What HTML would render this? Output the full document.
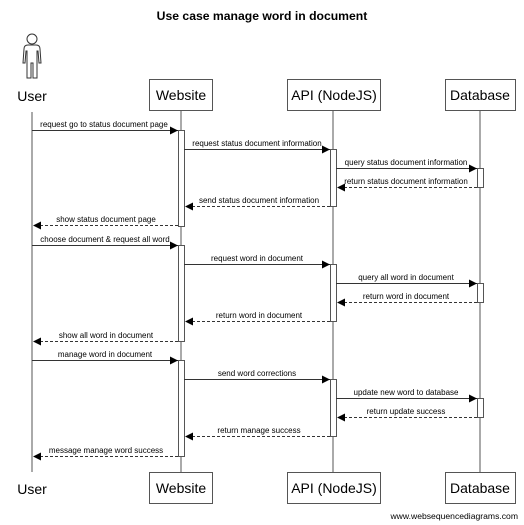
<!DOCTYPE html>
<html><head><meta charset="utf-8"><style>
html,body{margin:0;padding:0;background:#fff;}
svg{display:block;}
text{font-family:"Liberation Sans",Arial,sans-serif;fill:#000;}
</style></head><body>
<svg width="524" height="525" viewBox="0 0 524 525" xmlns="http://www.w3.org/2000/svg">
<defs>
<marker id="a" markerWidth="8" markerHeight="8" refX="8" refY="4" orient="auto" markerUnits="userSpaceOnUse"><path d="M0,0 L8,4 L0,8 z" fill="#000"/></marker>
</defs>
<text x="262" y="20" font-size="12.2" font-weight="bold" text-anchor="middle">Use case manage word in document</text>
<g fill="none" stroke="#333" stroke-width="1">
<circle cx="32" cy="39" r="5"/>
<path d="M28,45 L36,45 Q40,45 40,49 L41,63 L39,63 L38,51 L37,51 L37,78 L33,78 L33,63 L31,63 L31,78 L27,78 L27,51 L26,51 L25,63 L23,63 L24,49 Q24,45 28,45 z"/>
</g>
<text x="32" y="101" font-size="14" text-anchor="middle">User</text>
<text x="32" y="494" font-size="14" text-anchor="middle">User</text>
<g stroke="#555" stroke-width="1">
<line x1="32" y1="112" x2="32" y2="472"/>
<line x1="181" y1="110" x2="181" y2="472"/>
<line x1="333" y1="110" x2="333" y2="472"/>
<line x1="480" y1="110" x2="480" y2="472"/>
</g>
<g fill="#fff" stroke="#555" stroke-width="1">
<rect x="149.5" y="79.5" width="63" height="31"/>
<rect x="287.5" y="79.5" width="93" height="31"/>
<rect x="445.5" y="79.5" width="70" height="31"/>
<rect x="149.5" y="472.5" width="63" height="31"/>
<rect x="287.5" y="472.5" width="93" height="31"/>
<rect x="445.5" y="472.5" width="70" height="31"/>
</g>
<g font-size="14" text-anchor="middle">
<text x="181" y="100">Website</text><text x="334" y="100">API (NodeJS)</text><text x="480" y="100">Database</text>
<text x="181" y="493">Website</text><text x="334" y="493">API (NodeJS)</text><text x="480" y="493">Database</text>
</g>
<g fill="#fff" stroke="#555" stroke-width="1">
<rect x="178.5" y="130.5" width="6" height="96"/>
<rect x="330.5" y="149.5" width="6" height="57"/>
<rect x="477.5" y="168.5" width="6" height="19"/>
<rect x="178.5" y="245.5" width="6" height="96"/>
<rect x="330.5" y="264.5" width="6" height="57"/>
<rect x="477.5" y="283.5" width="6" height="19"/>
<rect x="178.5" y="360.5" width="6" height="96"/>
<rect x="330.5" y="379.5" width="6" height="57"/>
<rect x="477.5" y="398.5" width="6" height="19"/>
</g>
<g stroke="#333" stroke-width="1" marker-end="url(#a)">
<line x1="32" y1="130.5" x2="178" y2="130.5"/>
<line x1="184" y1="149.5" x2="330" y2="149.5"/>
<line x1="336" y1="168.5" x2="477" y2="168.5"/>
<line x1="477" y1="187.5" x2="337" y2="187.5" stroke-dasharray="3,2"/>
<line x1="330" y1="206.5" x2="185" y2="206.5" stroke-dasharray="3,2"/>
<line x1="178" y1="225.5" x2="33" y2="225.5" stroke-dasharray="3,2"/>
<line x1="32" y1="245.5" x2="178" y2="245.5"/>
<line x1="184" y1="264.5" x2="330" y2="264.5"/>
<line x1="336" y1="283.5" x2="477" y2="283.5"/>
<line x1="477" y1="302.5" x2="337" y2="302.5" stroke-dasharray="3,2"/>
<line x1="330" y1="321.5" x2="185" y2="321.5" stroke-dasharray="3,2"/>
<line x1="178" y1="341.5" x2="33" y2="341.5" stroke-dasharray="3,2"/>
<line x1="32" y1="360.5" x2="178" y2="360.5"/>
<line x1="184" y1="379.5" x2="330" y2="379.5"/>
<line x1="336" y1="398.5" x2="477" y2="398.5"/>
<line x1="477" y1="417.5" x2="337" y2="417.5" stroke-dasharray="3,2"/>
<line x1="330" y1="436.5" x2="185" y2="436.5" stroke-dasharray="3,2"/>
<line x1="178" y1="456.5" x2="33" y2="456.5" stroke-dasharray="3,2"/>
</g>
<g font-size="8" text-anchor="middle">
<text x="104" y="127">request go to status document page</text>
<text x="257" y="146">request status document information</text>
<text x="406" y="165">query status document information</text>
<text x="406" y="184">return status document information</text>
<text x="259" y="203">send status document information</text>
<text x="106" y="222">show status document page</text>
<text x="105" y="242">choose document &amp; request all word</text>
<text x="257" y="261">request word in document</text>
<text x="406" y="280">query all word in document</text>
<text x="406" y="299">return word in document</text>
<text x="259" y="318">return word in document</text>
<text x="106" y="338">show all word in document</text>
<text x="105" y="357">manage word in document</text>
<text x="257" y="376">send word corrections</text>
<text x="406" y="395">update new word to database</text>
<text x="406" y="414">return update success</text>
<text x="259" y="433">return manage success</text>
<text x="106" y="453">message manage word success</text>
</g>
<text x="518" y="519" font-size="8.6" text-anchor="end">www.websequencediagrams.com</text>
</svg>
</body></html>
